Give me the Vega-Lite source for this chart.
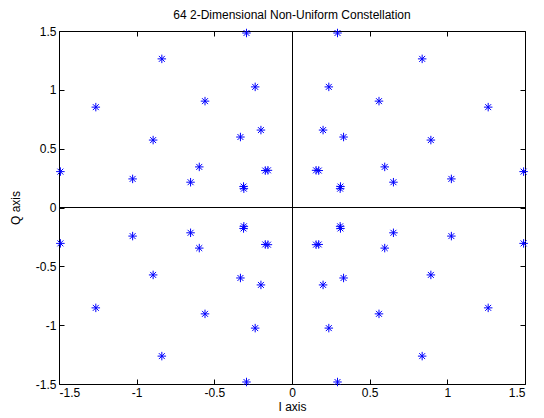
{
 "$schema": "https://vega.github.io/schema/vega-lite/v6.json",
 "width": 466, "height": 353,
 "autosize": "none",
 "padding": {"left": 59, "top": 31, "right": 19, "bottom": 34},
 "background": "white",
 "title": {"text": "64 2-Dimensional Non-Uniform Constellation", "fontSize": 12, "fontWeight": "normal", "font": "Liberation Sans", "offset": 3, "color": "black"},
 "config": {
  "view": {"stroke": "black", "strokeWidth": 1},
  "axis": {"domain": false, "grid": false, "tickColor": "black", "tickSize": -5, "labelColor": "black", "labelFont": "Liberation Sans", "labelFontSize": 12, "titleFont": "Liberation Sans", "titleFontSize": 12, "titleFontWeight": "normal", "titleColor": "black", "labelPadding": 8}
 },
 "datasets": {"pts": [
  {"i": 0.293, "q": 1.483}, {"i": 0.838, "q": 1.263}, {"i": 0.237, "q": 1.025}, {"i": 0.560, "q": 0.904},
  {"i": 1.263, "q": 0.853}, {"i": 0.200, "q": 0.658}, {"i": 0.332, "q": 0.599}, {"i": 0.894, "q": 0.573},
  {"i": 0.597, "q": 0.345}, {"i": 0.155, "q": 0.316}, {"i": 0.172, "q": 0.314}, {"i": 1.491, "q": 0.305},
  {"i": 1.026, "q": 0.243}, {"i": 0.653, "q": 0.215}, {"i": 0.310, "q": 0.160}, {"i": 0.312, "q": 0.178},
  {"i": -0.293, "q": 1.483}, {"i": -0.838, "q": 1.263}, {"i": -0.237, "q": 1.025}, {"i": -0.560, "q": 0.904},
  {"i": -1.263, "q": 0.853}, {"i": -0.200, "q": 0.658}, {"i": -0.332, "q": 0.599}, {"i": -0.894, "q": 0.573},
  {"i": -0.597, "q": 0.345}, {"i": -0.155, "q": 0.316}, {"i": -0.172, "q": 0.314}, {"i": -1.491, "q": 0.305},
  {"i": -1.026, "q": 0.243}, {"i": -0.653, "q": 0.215}, {"i": -0.310, "q": 0.160}, {"i": -0.312, "q": 0.178},
  {"i": 0.293, "q": -1.483}, {"i": 0.838, "q": -1.263}, {"i": 0.237, "q": -1.025}, {"i": 0.560, "q": -0.904},
  {"i": 1.263, "q": -0.853}, {"i": 0.200, "q": -0.658}, {"i": 0.332, "q": -0.599}, {"i": 0.894, "q": -0.573},
  {"i": 0.597, "q": -0.345}, {"i": 0.155, "q": -0.316}, {"i": 0.172, "q": -0.314}, {"i": 1.491, "q": -0.305},
  {"i": 1.026, "q": -0.243}, {"i": 0.653, "q": -0.215}, {"i": 0.310, "q": -0.160}, {"i": 0.312, "q": -0.178},
  {"i": -0.293, "q": -1.483}, {"i": -0.838, "q": -1.263}, {"i": -0.237, "q": -1.025}, {"i": -0.560, "q": -0.904},
  {"i": -1.263, "q": -0.853}, {"i": -0.200, "q": -0.658}, {"i": -0.332, "q": -0.599}, {"i": -0.894, "q": -0.573},
  {"i": -0.597, "q": -0.345}, {"i": -0.155, "q": -0.316}, {"i": -0.172, "q": -0.314}, {"i": -1.491, "q": -0.305},
  {"i": -1.026, "q": -0.243}, {"i": -0.653, "q": -0.215}, {"i": -0.310, "q": -0.160}, {"i": -0.312, "q": -0.178}
 ]},
 "data": {"name": "pts"},
 "layer": [
  {
   "mark": {"type": "point", "shape": "M-1,0L1,0M0,-1L0,1M-0.7,-0.7L0.7,0.7M-0.7,0.7L0.7,-0.7", "filled": false, "stroke": "#0000ff", "strokeWidth": 1, "size": 72, "opacity": 1},
   "encoding": {
    "x": {"field": "i", "type": "quantitative", "scale": {"domain": [-1.5, 1.5], "nice": false, "zero": false}, "axis": {"orient": "bottom", "values": [-1.5, -1, -0.5, 0, 0.5, 1, 1.5], "labelExpr": "'' + datum.value", "title": "I axis", "titlePadding": 3}},
    "y": {"field": "q", "type": "quantitative", "scale": {"domain": [-1.5, 1.5], "nice": false, "zero": false}, "axis": {"orient": "left", "values": [-1.5, -1, -0.5, 0, 0.5, 1, 1.5], "labelExpr": "'' + datum.value", "title": "Q axis", "titlePadding": 13}}
   }
  },
  {
   "mark": {"type": "point", "opacity": 0},
   "encoding": {
    "x": {"field": "i", "type": "quantitative", "axis": {"orient": "top", "values": [-1.5, -1, -0.5, 0, 0.5, 1, 1.5], "labels": false, "title": null}},
    "y": {"field": "q", "type": "quantitative", "axis": {"orient": "right", "values": [-1.5, -1, -0.5, 0, 0.5, 1, 1.5], "labels": false, "title": null}}
   }
  },
  {
   "mark": {"type": "rule", "color": "black", "strokeWidth": 1, "xOffset": 0.5},
   "encoding": {"x": {"datum": 0, "type": "quantitative", "axis": null}}
  },
  {
   "mark": {"type": "rule", "color": "black", "strokeWidth": 1},
   "encoding": {"y": {"datum": 0, "type": "quantitative", "axis": null}}
  }
 ],
 "resolve": {"axis": {"x": "independent", "y": "independent"}}
}
